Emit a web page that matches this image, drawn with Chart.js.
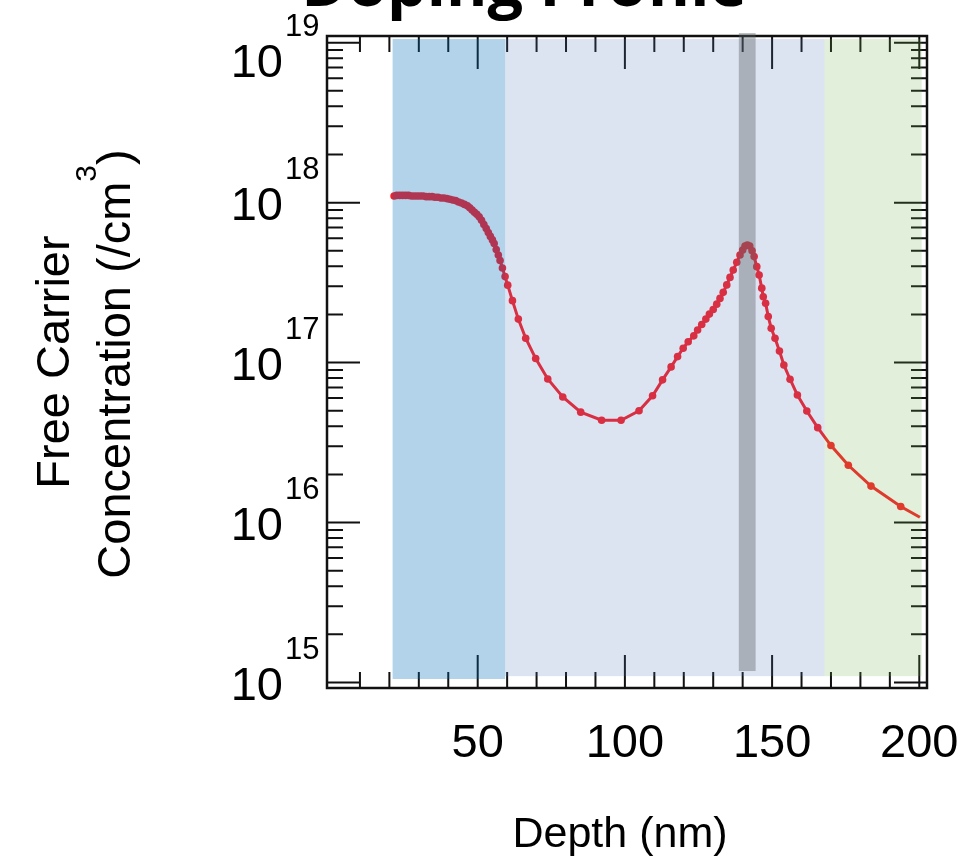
<!DOCTYPE html>
<html>
<head>
<meta charset="utf-8">
<title>Doping Profile</title>
<script src="https://cdn.jsdelivr.net/npm/chart.js@4.4.1/dist/chart.umd.min.js"></script>
<style>
  html, body { margin: 0; padding: 0; background: #fff; }
  #chart { display: block; }
</style>
</head>
<body>
<canvas id="chart" width="959" height="856"></canvas>
<script>
// Depth (nm) and free carrier concentration (/cm^3)
const depth = [
    21.6, 22.5, 23.5, 24.5, 25.5, 26.5, 27.5, 28.5, 29.5, 30.5,
    31.5, 32.5, 33.5, 34.5, 35.5, 36.5, 37.5, 38.5, 39.5, 40.5,
    41.5, 42.5, 43.5, 44.5, 45.5, 46.5, 47.3, 48.1, 48.9, 49.7,
    50.5, 51.3, 52.1, 52.9, 53.6, 54.3, 55.0, 55.6, 56.3, 57.0,
    57.6, 58.4, 59.3, 60.2, 61.8, 63.8, 66.3, 69.7, 73.8, 78.9,
    85.0, 92.1, 98.7, 104.8, 109.4, 112.8, 115.7, 117.9, 119.8, 121.5,
    123.4, 124.7, 126.1, 127.5, 128.7, 130.0, 131.2, 132.3, 133.4, 134.6,
    135.7, 136.8, 138.0, 139.1, 140.0, 140.8, 141.6, 142.4, 143.2, 143.9,
    144.8, 145.6, 146.5, 147.0, 147.8, 148.7, 149.7, 151.0, 152.5, 154.0,
    156.1, 158.6, 161.8, 165.5, 170.0, 175.9, 183.6, 193.7, 200.2
];
const concentration = [
    1.10e18, 1.11e18, 1.11e18, 1.11e18, 1.11e18, 1.11e18, 1.10e18, 1.10e18, 1.10e18, 1.10e18,
    1.10e18, 1.09e18, 1.09e18, 1.09e18, 1.08e18, 1.08e18, 1.07e18, 1.07e18, 1.06e18, 1.05e18,
    1.04e18, 1.03e18, 1.01e18, 9.95e17, 9.75e17, 9.55e17, 9.30e17, 9.00e17, 8.70e17, 8.45e17,
    8.15e17, 7.75e17, 7.30e17, 6.90e17, 6.50e17, 6.15e17, 5.85e17, 5.55e17, 5.10e17, 4.70e17,
    4.35e17, 3.90e17, 3.45e17, 3.05e17, 2.44e17, 1.87e17, 1.42e17, 1.06e17, 7.90e16, 6.10e16,
    4.90e16, 4.36e16, 4.36e16, 5.00e16, 6.20e16, 7.80e16, 9.40e16, 1.09e17, 1.23e17, 1.35e17,
    1.47e17, 1.60e17, 1.73e17, 1.87e17, 2.01e17, 2.15e17, 2.32e17, 2.52e17, 2.75e17, 3.06e17,
    3.41e17, 3.79e17, 4.24e17, 4.71e17, 5.05e17, 5.35e17, 5.44e17, 5.35e17, 5.00e17, 4.60e17,
    3.98e17, 3.53e17, 2.92e17, 2.58e17, 2.35e17, 1.94e17, 1.64e17, 1.42e17, 1.18e17, 9.67e16,
    7.87e16, 6.27e16, 4.98e16, 3.92e16, 3.03e16, 2.28e16, 1.69e16, 1.26e16, 1.08e16
];

// Axis ticks
const xLabels = [50, 100, 150, 200];
const yDecades = [15, 16, 17, 18, 19];

// Shaded layers (depth boundaries in nm)
const layerStart = [21.1, 59.3, 167.8, 138.7];
const layerEnd = [59.3, 167.8, 200.8, 144.4];

const FONT = '"Liberation Sans", Arial, sans-serif';

// Frame, inward ticks, then translucent layers over the curve
const framePlugin = {
    id: 'framePlugin',
    afterDatasetsDraw(chart) {
        const { ctx, chartArea: a, scales: { x, y } } = chart;
        ctx.save();
        ctx.strokeStyle = '#111';
        ctx.lineWidth = 2;

        for (let v = 10; v <= 200; v += 10) {
            const px = x.getPixelForValue(v);
            const len = v % 50 === 0 ? 33 : 16;
            ctx.beginPath();
            ctx.moveTo(px, a.bottom);
            ctx.lineTo(px, a.bottom - len);
            ctx.moveTo(px, a.top);
            ctx.lineTo(px, a.top + len);
            ctx.stroke();
        }

        yDecades.forEach(d => {
            for (let m = 1; m <= 9; m++) {
                const v = m * Math.pow(10, d);
                if (v < y.min || v > y.max) continue;
                const py = y.getPixelForValue(v);
                const len = m === 1 ? 33 : 16;
                ctx.beginPath();
                ctx.moveTo(a.left, py);
                ctx.lineTo(a.left + len, py);
                ctx.moveTo(a.right, py);
                ctx.lineTo(a.right - len, py);
                ctx.stroke();
            }
        });

        ctx.lineWidth = 2.5;
        ctx.strokeRect(a.left, a.top, a.right - a.left, a.bottom - a.top);

        // layers
        const fills = [
            'rgba(2, 108, 185, 0.3)',
            'rgba(80, 115, 185, 0.2)',
            'rgba(110, 175, 70, 0.2)',
            'rgba(92, 100, 103, 0.4)'
        ];
        const bottoms = [1.052e15, 1.096e15, 1.096e15, 1.18e15];
        const tops = [1.054e19, 1.054e19, 1.054e19, 1.15e19];
        layerStart.forEach((s, i) => {
            const x0 = x.getPixelForValue(s);
            const x1 = x.getPixelForValue(layerEnd[i]);
            const y0 = y.getPixelForValue(tops[i]);
            const y1 = y.getPixelForValue(bottoms[i]);
            ctx.fillStyle = fills[i];
            ctx.fillRect(x0, y0, x1 - x0, y1 - y0);
        });
        ctx.restore();
    },
    afterDraw(chart) {
        const { ctx, scales: { x, y } } = chart;
        ctx.save();
        ctx.fillStyle = '#000';

        // y tick labels as 10^n
        yDecades.forEach(d => {
            const py = y.getPixelForValue(Math.pow(10, d));
            const base = Math.max(py + 17, 77);
            ctx.textAlign = 'right';
            ctx.font = '47px ' + FONT;
            ctx.fillText('10', 283, base);
            ctx.textAlign = 'left';
            ctx.font = '31px ' + FONT;
            ctx.fillText(String(d), 285, base - 41);
        });

        // x tick labels
        ctx.textAlign = 'center';
        ctx.font = '47px ' + FONT;
        xLabels.forEach(v => {
            ctx.fillText(String(v), x.getPixelForValue(v), 757);
        });

        // x title
        ctx.font = '43px ' + FONT;
        ctx.fillText('Depth (nm)', 620, 847);

        // y title, two rotated lines
        ctx.save();
        ctx.translate(69, 362);
        ctx.rotate(-Math.PI / 2);
        ctx.font = '47px ' + FONT;
        ctx.textAlign = 'center';
        ctx.fillText('Free Carrier', 0, 0);
        ctx.restore();

        ctx.save();
        ctx.translate(130, 364);
        ctx.rotate(-Math.PI / 2);
        ctx.textAlign = 'left';
        ctx.font = '47px ' + FONT;
        const main = 'Concentration (/cm';
        const wMain = ctx.measureText(main).width;
        const wClose = ctx.measureText(')').width;
        ctx.font = '30px ' + FONT;
        const wSup = ctx.measureText('3').width;
        let pos = -(wMain + wSup + wClose) / 2;
        ctx.font = '47px ' + FONT;
        ctx.fillText(main, pos, 0);
        pos += wMain;
        ctx.font = '30px ' + FONT;
        ctx.fillText('3', pos, -34);
        pos += wSup;
        ctx.font = '47px ' + FONT;
        ctx.fillText(')', pos, 0);
        ctx.restore();

        // chart title, cut off at the top edge
        ctx.textAlign = 'center';
        ctx.font = 'bold 63px "Open Sans", sans-serif';
        ctx.fillText('Doping Profile', 524, 6);
        ctx.restore();
    }
};

const points = depth.map((d, i) => ({ x: d, y: concentration[i] }));
const radii = depth.map((d, i) => (i === depth.length - 1 ? 0 : 3.8));

new Chart(document.getElementById('chart').getContext('2d'), {
    type: 'line',
    data: {
        datasets: [{
            data: points,
            borderColor: 'rgb(250, 30, 38)',
            backgroundColor: 'rgb(250, 30, 38)',
            borderWidth: 3,
            pointRadius: radii,
            pointBorderWidth: 0,
            tension: 0,
            fill: false
        }]
    },
    options: {
        responsive: false,
        animation: false,
        devicePixelRatio: 1,
        layout: {
            padding: { left: 327, right: 32, top: 36, bottom: 168 }
        },
        plugins: {
            legend: { display: false },
            tooltip: { enabled: false }
        },
        scales: {
            x: { type: 'linear', min: -1.19, max: 202.62, display: false },
            y: { type: 'logarithmic', min: 9.24e14, max: 1.1013e19, display: false }
        }
    },
    plugins: [framePlugin]
});
</script>
</body>
</html>
